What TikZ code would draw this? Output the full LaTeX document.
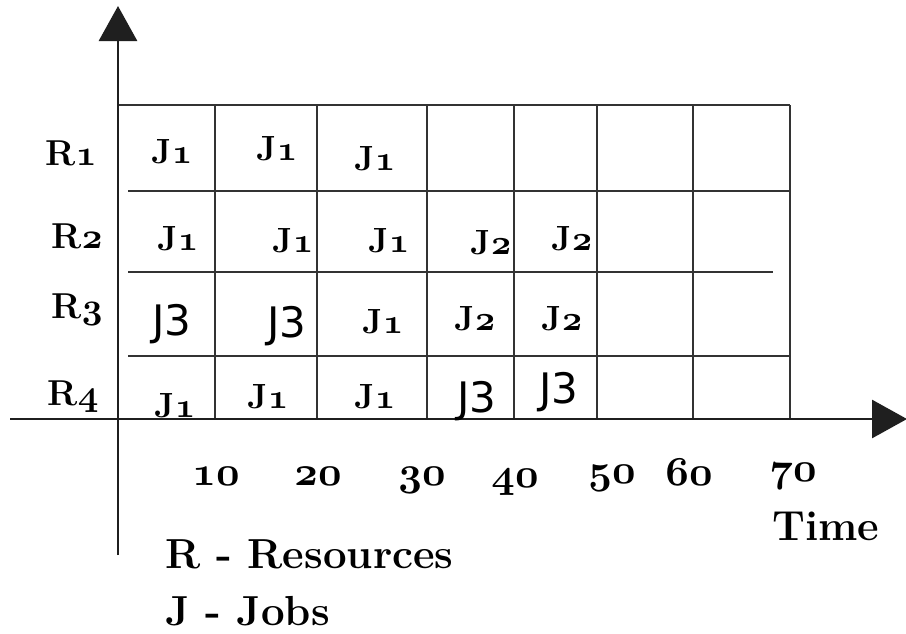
\documentclass[tikz,border=0pt]{standalone}
\usepackage{fontspec}
\newfontfamily\jsansfont{DejaVu Sans}
\usetikzlibrary{arrows.meta}
\font\osR=cmmib10 at 36pt
\font\osJ=cmmib10 at 35pt
\font\osN=cmmib10 at 41pt
\newcommand\rsub[1]{{\osR #1}}
\newcommand\jsub[1]{{\osJ #1}}
\newcommand\tnum[1]{{\osN #1}}
\begin{document}
\begin{tikzpicture}[x=1pt,y=-1pt,
  gridline/.style={line width=2.8pt, draw=black!80},
  axisline/.style={line width=2.9pt, draw=black!88},
  axistip/.style={-{Triangle[length=35pt,width=38pt]}},
  rlab/.style={font=\fontsize{36}{38}\selectfont\bfseries, inner sep=0pt, anchor=base},
  jlab/.style={font=\fontsize{35}{37}\selectfont\bfseries, inner sep=0pt, anchor=base},
  jsans/.style={font=\fontsize{42}{44}\selectfont\jsansfont, inner sep=0pt, anchor=base},
  numlab/.style={font=\fontsize{41}{43}\selectfont\bfseries, inner sep=0pt, anchor=base},
  legend/.style={font=\fontsize{42}{44}\selectfont\bfseries, inner sep=0pt, anchor=base west},
]
\useasboundingbox (0,0) rectangle (906,633);
\fill[white] (0,0) rectangle (906,633);

% grid
\foreach \gx in {215,317,427,514,597,693,790}
  \draw[gridline] (\gx,105) -- (\gx,419);
\draw[gridline] (118,105) -- (790,105);
\draw[gridline] (128,191) -- (790,191);
\draw[gridline] (128,272) -- (773,272);
\draw[gridline] (128,356) -- (790,356);

% axes
\coordinate (ybot) at (118,555);
\coordinate (ytop) at (118,6);
\coordinate (xleft) at (10,419);
\coordinate (xright) at (907,419);
\draw[axisline, axistip] (ybot) -- (ytop);
\draw[axisline, axistip] (xleft) -- (xright);

% resource labels
\node[rlab] (r1) at (71,165) {R\rsub{1}};
\node[rlab] (r2) at (77,248) {R\rsub{2}};
\node[rlab] (r3) at (77,318) {R\rsub{3}};
\node[rlab] (r4) at (73,405) {R\rsub{4}};

% row 1
\node[jlab] (a1) at (172,163) {J\jsub{1}};
\node[jlab] (a2) at (277,160) {J\jsub{1}};
\node[jlab] (a3) at (375,170) {J\jsub{1}};
% row 2
\node[jlab] (b1) at (178,250) {J\jsub{1}};
\node[jlab] (b2) at (293,252) {J\jsub{1}};
\node[jlab] (b3) at (389,252) {J\jsub{1}};
\node[jlab] (b4) at (491,254) {J\jsub{2}};
\node[jlab] (b5) at (572,250) {J\jsub{2}};
% row 3
\node[jsans] (c1) at (172,335) {J3};
\node[jsans] (c2) at (287,337) {J3};
\node[jlab] (c3) at (383,333) {J\jsub{1}};
\node[jlab] (c4) at (475,330) {J\jsub{2}};
\node[jlab] (c5) at (562,330) {J\jsub{2}};
% row 4
\node[jlab] (d1) at (175,417) {J\jsub{1}};
\node[jlab] (d2) at (268,408) {J\jsub{1}};
\node[jlab] (d3) at (375,408) {J\jsub{1}};
\node[jsans] (d4) at (477,412) {J3};
\node[jsans] (d5) at (559,403) {J3};

% time labels
\node[numlab] (t10) at (216,485) {\tnum{10}};
\node[numlab] (t20) at (318,485) {\tnum{20}};
\node[numlab] (t30) at (422,485) {\tnum{30}};
\node[numlab] (t40) at (515,487) {\tnum{40}};
\node[numlab] (t50) at (612,483) {\tnum{50}};
\node[numlab] (t60) at (689,485) {\tnum{60}};
\node[numlab] (t70) at (793,481) {\tnum{70}};
\node[legend] (time) at (772,540) {Time};

% legend
\node[legend] (lr) at (165,568) {R - Resources};
\node[legend] (lj) at (165,625) {J - Jobs};
\end{tikzpicture}
\end{document}
